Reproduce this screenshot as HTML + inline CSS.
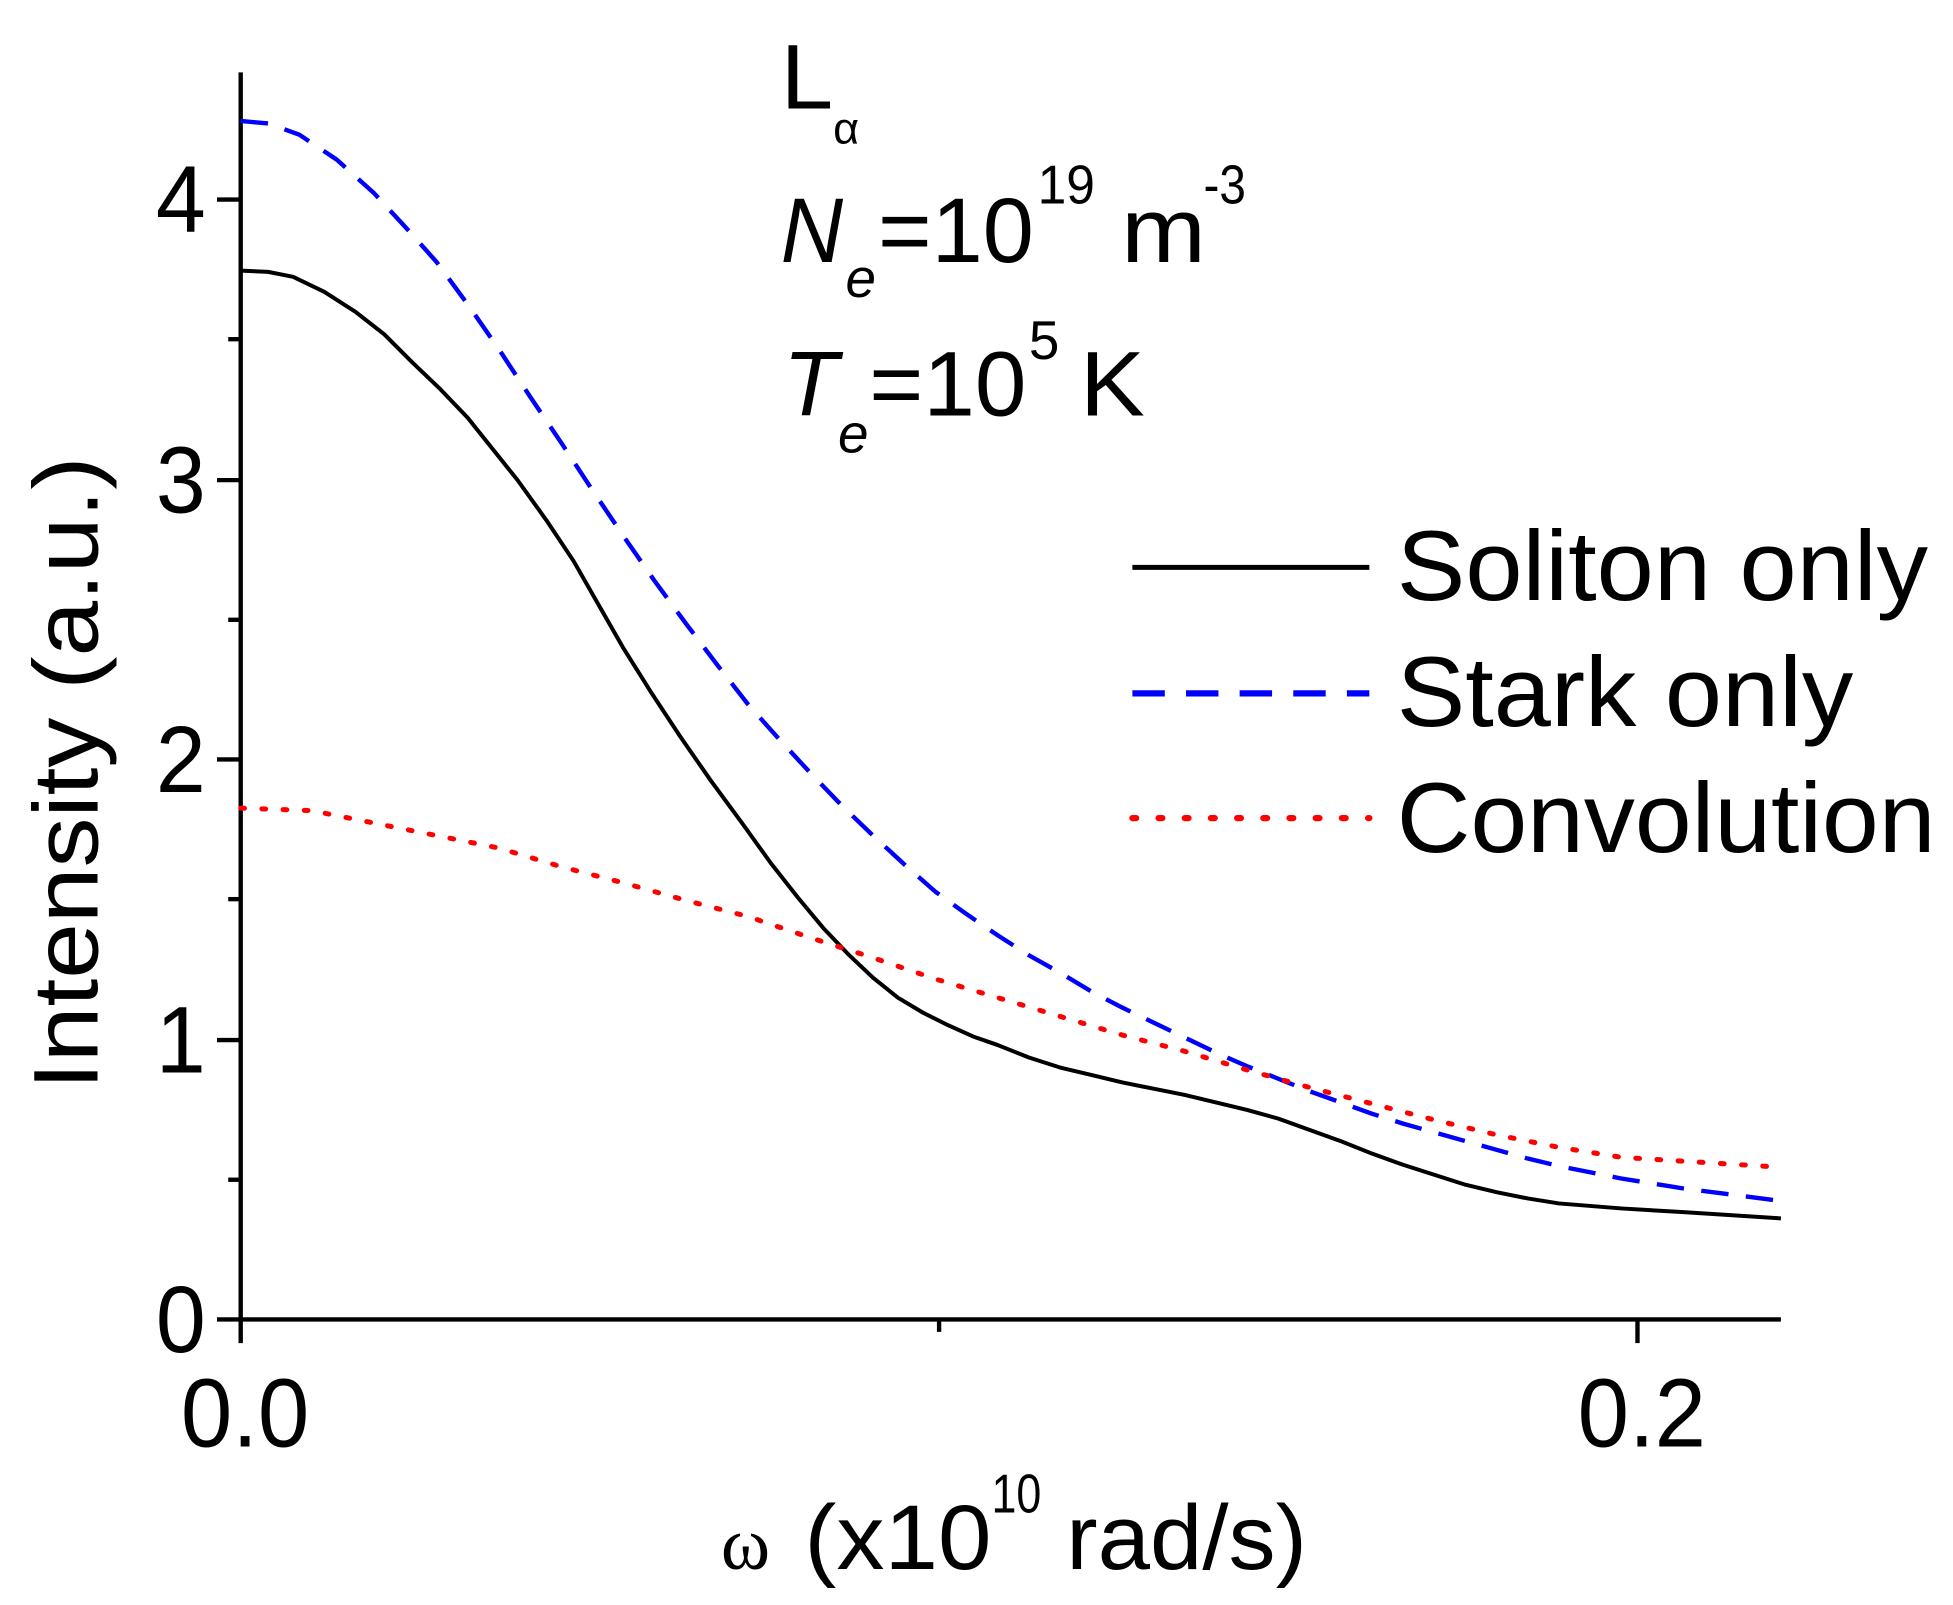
<!DOCTYPE html>
<html><head><style>html,body{margin:0;padding:0;background:#fff}svg{display:block}</style></head>
<body>
<svg width="1953" height="1605" viewBox="0 0 1566 1287" preserveAspectRatio="none" xmlns="http://www.w3.org/2000/svg" font-family="Liberation Sans, Arial, sans-serif">
<g stroke="#000" stroke-width="3.5" fill="none">
<line x1="193" y1="58" x2="193" y2="1077"/>
<line x1="174" y1="1058" x2="1428" y2="1058"/>
<line x1="174" y1="160" x2="193" y2="160"/>
<line x1="174" y1="385" x2="193" y2="385"/>
<line x1="174" y1="609" x2="193" y2="609"/>
<line x1="174" y1="834" x2="193" y2="834"/>
<line x1="183" y1="272" x2="193" y2="272"/>
<line x1="183" y1="497" x2="193" y2="497"/>
<line x1="183" y1="721" x2="193" y2="721"/>
<line x1="183" y1="946" x2="193" y2="946"/>
<line x1="753" y1="1058" x2="753" y2="1068"/>
<line x1="1313" y1="1058" x2="1313" y2="1077"/>
</g>
<g font-size="76" text-anchor="end">
<text x="165" y="1084" textLength="40" lengthAdjust="spacingAndGlyphs">0</text>
<text x="165" y="860" textLength="40" lengthAdjust="spacingAndGlyphs">1</text>
<text x="165" y="635" textLength="40" lengthAdjust="spacingAndGlyphs">2</text>
<text x="165" y="411" textLength="40" lengthAdjust="spacingAndGlyphs">3</text>
<text x="165" y="186" textLength="40" lengthAdjust="spacingAndGlyphs">4</text>
</g>
<g font-size="78">
<text x="145" y="1160" textLength="103" lengthAdjust="spacingAndGlyphs">0.0</text>
<text x="1265" y="1160" textLength="103" lengthAdjust="spacingAndGlyphs">0.2</text>
</g>
<text transform="translate(78,620) rotate(-90)" font-size="74" text-anchor="middle" textLength="508" lengthAdjust="spacingAndGlyphs">Intensity (a.u.)</text>
<g font-size="74">
<text x="578" y="1258" font-family="Liberation Serif, serif" font-size="60">ω</text>
<text x="645" y="1258" textLength="150" lengthAdjust="spacingAndGlyphs">(x10</text>
<text x="795" y="1213" font-size="44" textLength="40" lengthAdjust="spacingAndGlyphs">10</text>
<text x="855" y="1258" textLength="193" lengthAdjust="spacingAndGlyphs">rad/s)</text>
</g>
<g font-size="74">
<text x="626" y="87" textLength="42" lengthAdjust="spacingAndGlyphs">L</text>
<text x="668" y="115" font-size="36">α</text>
<text x="626" y="210" font-style="italic" textLength="50" lengthAdjust="spacingAndGlyphs">N</text>
<text x="678" y="238" font-size="44" font-style="italic">e</text>
<text x="704" y="210" textLength="125" lengthAdjust="spacingAndGlyphs">=10</text>
<text x="832" y="163" font-size="44" textLength="46" lengthAdjust="spacingAndGlyphs">19</text>
<text x="899" y="210" textLength="68" lengthAdjust="spacingAndGlyphs">m</text>
<text x="965" y="163" font-size="44" textLength="34" lengthAdjust="spacingAndGlyphs">-3</text>
<text x="628" y="333" font-style="italic" textLength="44" lengthAdjust="spacingAndGlyphs">T</text>
<text x="672" y="363" font-size="44" font-style="italic">e</text>
<text x="697" y="333" textLength="126" lengthAdjust="spacingAndGlyphs">=10</text>
<text x="825" y="288" font-size="44">5</text>
<text x="866" y="333" textLength="52" lengthAdjust="spacingAndGlyphs">K</text>
</g>
<g font-size="80">
<text x="1120" y="481" textLength="426" lengthAdjust="spacingAndGlyphs">Soliton only</text>
<text x="1120" y="582" textLength="366" lengthAdjust="spacingAndGlyphs">Stark only</text>
<text x="1120" y="683" textLength="432" lengthAdjust="spacingAndGlyphs">Convolution</text>
</g>
<line x1="908" y1="455" x2="1098" y2="455" stroke="#000" stroke-width="4"/>
<line x1="908" y1="556" x2="1098" y2="556" stroke="#0000ff" stroke-width="5" stroke-dasharray="26,17"/>
<line x1="908" y1="656" x2="1098" y2="656" stroke="#ff0000" stroke-width="5" stroke-dasharray="3,18" stroke-linecap="round"/>
<polyline fill="none" stroke="#000" stroke-width="3.2" stroke-linejoin="round" points="193,217 215,218 235,222 260,234 285,250 308,268 330,290 353,312 375,335 395,360 415,385 438,417 460,450 480,485 500,520 522,555 545,590 570,626 595,660 618,692 640,720 660,744 680,765 700,784 720,800 740,812 760,822 780,831 800,838 825,848 850,856 875,862 900,868 925,873 950,878 975,884 1000,890 1025,897 1050,906 1075,915 1100,925 1125,934 1150,942 1175,950 1200,956 1225,961 1250,965 1275,967 1300,969 1350,972 1428,977"/>
<polyline fill="none" stroke="#0000ff" stroke-width="3.5" stroke-dasharray="22,14" stroke-linejoin="round" points="193,97 215,99 240,108 270,128 300,155 325,182 350,210 375,244 400,280 425,318 450,355 475,393 500,430 525,466 550,500 575,533 600,565 625,593 650,620 675,646 700,670 725,693 750,715 775,733 800,750 825,766 850,780 875,795 900,808 925,820 950,832 975,844 1000,855 1025,865 1050,875 1075,884 1100,893 1125,901 1150,908 1175,915 1200,922 1225,929 1250,935 1275,940 1300,945 1350,953 1428,963"/>
<polyline fill="none" stroke="#ff0000" stroke-width="4" stroke-dasharray="3,14" stroke-linecap="round" points="193,648 250,650 300,660 350,670 400,680 450,695 500,708 550,722 600,735 650,752 700,768 750,785 800,800 850,815 900,830 950,843 1000,858 1050,872 1100,885 1150,898 1200,910 1250,920 1300,928 1428,936"/>
</svg>
</body></html>
